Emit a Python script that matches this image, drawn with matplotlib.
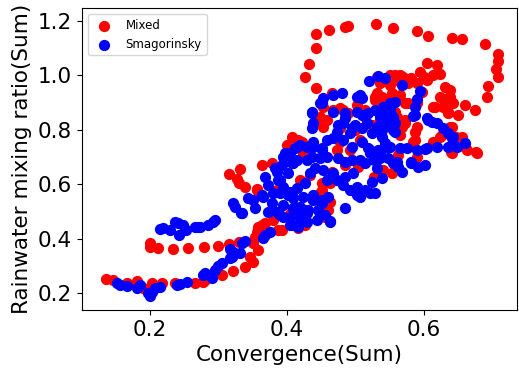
import matplotlib
matplotlib.use("Agg")
import matplotlib.pyplot as plt

# Mixed scheme (red)
mixed_x = [
    0.136, 0.146, 0.166, 0.181, 0.190, 0.203, 0.218, 0.236, 0.266, 0.277, 0.280,
    0.305, 0.321, 0.339, 0.350, 0.346, 0.358, 0.350, 0.353, 0.356, 0.358, 0.364,
    0.368, 0.380, 0.387, 0.393, 0.416, 0.426, 0.423, 0.455, 0.463, 0.458, 0.448,
    0.356, 0.385, 0.404,
    0.200, 0.200, 0.212, 0.234, 0.255, 0.279, 0.299, 0.315, 0.330,
    0.315, 0.331, 0.327, 0.330, 0.339, 0.356, 0.364, 0.378,
    0.426, 0.432, 0.442, 0.442, 0.461, 0.485, 0.489, 0.530, 0.555, 0.590, 0.606,
    0.641, 0.655, 0.688, 0.707, 0.708, 0.705, 0.708, 0.693, 0.692, 0.674, 0.650,
    0.442,
    0.604, 0.619, 0.623, 0.613, 0.599, 0.594, 0.604, 0.590, 0.580, 0.569, 0.558,
    0.631, 0.638, 0.623, 0.635, 0.642, 0.628, 0.616, 0.635, 0.660, 0.597, 0.590,
    0.572, 0.565, 0.558,
    0.466, 0.531, 0.550, 0.565, 0.558, 0.536, 0.577, 0.467, 0.477, 0.458, 0.448,
    0.453, 0.407, 0.400, 0.422, 0.426, 0.531, 0.528, 0.553, 0.550, 0.572, 0.568,
    0.590, 0.587, 0.623, 0.638, 0.642, 0.655, 0.660, 0.677, 0.641,
    0.638, 0.613, 0.634, 0.641, 0.626, 0.647, 0.663, 0.676, 0.639, 0.613, 0.584,
    0.587, 0.572, 0.565, 0.577,
    0.453, 0.444, 0.416, 0.423, 0.473, 0.477, 0.466, 0.451, 0.451, 0.460, 0.438,
    0.526, 0.540, 0.524, 0.536, 0.499, 0.504, 0.555, 0.561,
    0.482, 0.489, 0.502, 0.528, 0.539, 0.550, 0.555, 0.546, 0.514, 0.514,
    0.553, 0.463, 0.460, 0.590, 0.562,
    0.492, 0.507, 0.485, 0.521, 0.477, 0.434, 0.419,
]
mixed_y = [
    0.251, 0.248, 0.237, 0.244, 0.218, 0.237, 0.237, 0.237, 0.237, 0.240, 0.248,
    0.266, 0.281, 0.295, 0.314, 0.332, 0.358, 0.383, 0.406, 0.424, 0.442, 0.450,
    0.457, 0.468, 0.431, 0.431, 0.439, 0.450, 0.479, 0.479, 0.534, 0.512, 0.567,
    0.578, 0.578, 0.490,
    0.369, 0.383, 0.365, 0.361, 0.365, 0.369, 0.372, 0.380, 0.387,
    0.637, 0.655, 0.618, 0.604, 0.589, 0.582, 0.670, 0.677,
    0.993, 1.040, 1.099, 1.150, 1.165, 1.176, 1.180, 1.187, 1.172, 1.161, 1.143,
    1.136, 1.132, 1.114, 1.077, 1.051, 1.022, 0.993, 0.960, 0.919, 0.872, 0.853,
    0.952,
    1.044, 1.037, 1.004, 1.000, 0.993, 1.011, 0.982, 0.971, 0.989, 0.993, 1.000,
    0.956, 0.945, 0.919, 0.916, 0.897, 0.883, 0.883, 0.864, 0.890, 0.938, 0.897,
    0.897, 0.927, 0.864,
    0.934, 0.993, 1.000, 1.000, 0.982, 0.971, 0.971, 0.872, 0.879, 0.835, 0.846,
    0.809, 0.772, 0.743, 0.754, 0.714, 0.934, 0.908, 0.934, 0.908, 0.835, 0.809,
    0.809, 0.761, 0.772, 0.809, 0.754, 0.772, 0.736, 0.714, 0.714,
    0.919, 0.883, 0.861, 0.809, 0.780, 0.772, 0.725, 0.717, 0.717, 0.754, 0.754,
    0.791, 0.824, 0.780, 0.897,
    0.883, 0.835, 0.761, 0.714, 0.725, 0.754, 0.644, 0.604, 0.578, 0.505, 0.541,
    0.626, 0.651, 0.817, 0.835, 0.798, 0.662, 0.897, 0.846,
    0.872, 0.861, 0.890, 0.919, 0.919, 0.963, 0.993, 0.890, 0.872, 0.846,
    0.640, 0.604, 0.541, 0.699, 0.706,
    0.725, 0.761, 0.670, 0.725, 0.805, 0.633, 0.615,
]

# Smagorinsky scheme (blue)
smag_x = [
    0.152, 0.156, 0.166, 0.181, 0.185, 0.197, 0.200, 0.203, 0.207, 0.215, 0.239,
    0.244, 0.254, 0.277, 0.280, 0.291, 0.295, 0.299, 0.305, 0.317, 0.321, 0.331,
    0.317, 0.321, 0.320, 0.334, 0.339,
    0.215, 0.219, 0.229, 0.236, 0.241, 0.248, 0.253, 0.242, 0.266, 0.270, 0.285,
    0.295, 0.321, 0.324, 0.333, 0.343, 0.350, 0.353, 0.364, 0.368, 0.372, 0.378,
    0.385, 0.390, 0.394, 0.380, 0.390, 0.385, 0.393, 0.397, 0.404, 0.409, 0.401,
    0.390, 0.394, 0.404, 0.409, 0.409, 0.404, 0.416, 0.375, 0.368, 0.365, 0.334,
    0.365, 0.372, 0.394, 0.404, 0.416, 0.426, 0.419, 0.407, 0.429, 0.444, 0.463,
    0.451, 0.460, 0.438, 0.412, 0.273, 0.292, 0.394, 0.382, 0.387, 0.401, 0.419,
    0.436, 0.451, 0.467, 0.485, 0.502, 0.509, 0.518, 0.528, 0.540, 0.550, 0.555,
    0.543, 0.539, 0.531, 0.517, 0.509, 0.499, 0.492, 0.482, 0.473, 0.467, 0.458,
    0.451, 0.438, 0.429, 0.415, 0.407, 0.415, 0.429, 0.436, 0.448, 0.458, 0.474,
    0.485, 0.495, 0.507, 0.514, 0.526, 0.536, 0.547, 0.555, 0.562, 0.546, 0.543,
    0.533, 0.521, 0.531, 0.539, 0.524, 0.514, 0.502, 0.507, 0.492, 0.482, 0.473,
    0.485, 0.496, 0.467, 0.458, 0.453, 0.441, 0.434, 0.426, 0.415, 0.423, 0.438,
    0.451, 0.445, 0.419, 0.431, 0.407, 0.485, 0.455,
    0.520, 0.533, 0.543, 0.568, 0.594, 0.590, 0.587, 0.584, 0.604, 0.612, 0.619,
    0.628, 0.635, 0.642, 0.660, 0.648, 0.634, 0.619, 0.604, 0.590, 0.575, 0.565,
    0.507, 0.509, 0.502, 0.480, 0.467, 0.453, 0.448, 0.436, 0.438, 0.436, 0.558,
    0.550, 0.546, 0.550, 0.536, 0.555, 0.539, 0.524, 0.495, 0.485, 0.474, 0.482,
    0.495, 0.509, 0.518, 0.536, 0.419, 0.412, 0.397, 0.438, 0.451,
    0.587, 0.558, 0.558, 0.606, 0.641, 0.601, 0.550, 0.580, 0.561, 0.591, 0.601,
    0.568,
    0.502, 0.521, 0.528, 0.580, 0.463, 0.448, 0.429,
]
smag_y = [
    0.237, 0.229, 0.226, 0.218, 0.229, 0.200, 0.189, 0.204, 0.218, 0.222, 0.229,
    0.233, 0.240, 0.266, 0.273, 0.255, 0.284, 0.299, 0.310, 0.328, 0.339, 0.347,
    0.361, 0.350, 0.332, 0.383, 0.391,
    0.435, 0.439, 0.431, 0.461, 0.457, 0.450, 0.431, 0.413, 0.442, 0.442, 0.450,
    0.468, 0.530, 0.516, 0.494, 0.549, 0.541, 0.512, 0.560, 0.626, 0.596, 0.530,
    0.497, 0.486, 0.523, 0.567, 0.567, 0.644, 0.670, 0.706, 0.714, 0.677, 0.640,
    0.615, 0.589, 0.571, 0.549, 0.512, 0.450, 0.442, 0.424, 0.413, 0.402, 0.494,
    0.552, 0.497, 0.479, 0.479, 0.486, 0.505, 0.461, 0.450, 0.461, 0.468, 0.461,
    0.530, 0.552, 0.541, 0.516, 0.442, 0.461, 0.699, 0.659, 0.615, 0.560, 0.505,
    0.864, 0.897, 0.864, 0.861, 0.864, 0.853, 0.861, 0.872, 0.883, 0.897, 0.846,
    0.817, 0.798, 0.809, 0.824, 0.805, 0.817, 0.787, 0.824, 0.791, 0.769, 0.761,
    0.732, 0.754, 0.736, 0.736, 0.677, 0.688, 0.688, 0.699, 0.695, 0.699, 0.695,
    0.680, 0.688, 0.688, 0.677, 0.688, 0.695, 0.695, 0.677, 0.662, 0.736, 0.750,
    0.725, 0.714, 0.659, 0.622, 0.607, 0.578, 0.560, 0.552, 0.578, 0.596, 0.615,
    0.626, 0.640, 0.640, 0.615, 0.651, 0.659, 0.640, 0.604, 0.586, 0.552, 0.560,
    0.541, 0.505, 0.516, 0.505, 0.567, 0.512, 0.486,
    0.978, 0.996, 0.989, 0.963, 0.941, 0.912, 0.883, 0.850, 0.842, 0.828, 0.824,
    0.805, 0.787, 0.772, 0.750, 0.736, 0.736, 0.736, 0.732, 0.725, 0.732, 0.732,
    0.927, 0.916, 0.919, 0.934, 0.927, 0.916, 0.897, 0.861, 0.824, 0.805, 0.901,
    0.872, 0.853, 0.824, 0.846, 0.798, 0.772, 0.787, 0.805, 0.842, 0.817, 0.761,
    0.736, 0.754, 0.732, 0.717, 0.743, 0.732, 0.714, 0.736, 0.725,
    0.853, 0.824, 0.791, 0.835, 0.769, 0.728, 0.736, 0.681, 0.681, 0.662, 0.670,
    0.644,
    0.589, 0.567, 0.567, 0.677, 0.464, 0.490, 0.494,
]

fig, ax = plt.subplots(figsize=(5.19, 3.71), dpi=100)
fig.subplots_adjust(left=0.158, right=0.997, bottom=0.164, top=0.978)

# red first so the blue points sit on top in the dense middle
ax.scatter(mixed_x, mixed_y, color="red", s=50, label="Mixed")
ax.scatter(smag_x, smag_y, color="blue", s=50, label="Smagorinsky")

ax.set_xlim(0.1007, 0.736)
ax.set_ylim(0.138, 1.246)
ax.set_xticks([0.2, 0.4, 0.6])
ax.set_yticks([0.2, 0.4, 0.6, 0.8, 1.0, 1.2])
ax.tick_params(labelsize=15.5)
ax.set_xlabel("Convergence(Sum)", fontsize=15.5)
ax.set_ylabel("Rainwater mixing ratio(Sum)", fontsize=15.5)
ax.legend(loc="upper left", fontsize=8.5)

fig.savefig("out.png", dpi=100)
